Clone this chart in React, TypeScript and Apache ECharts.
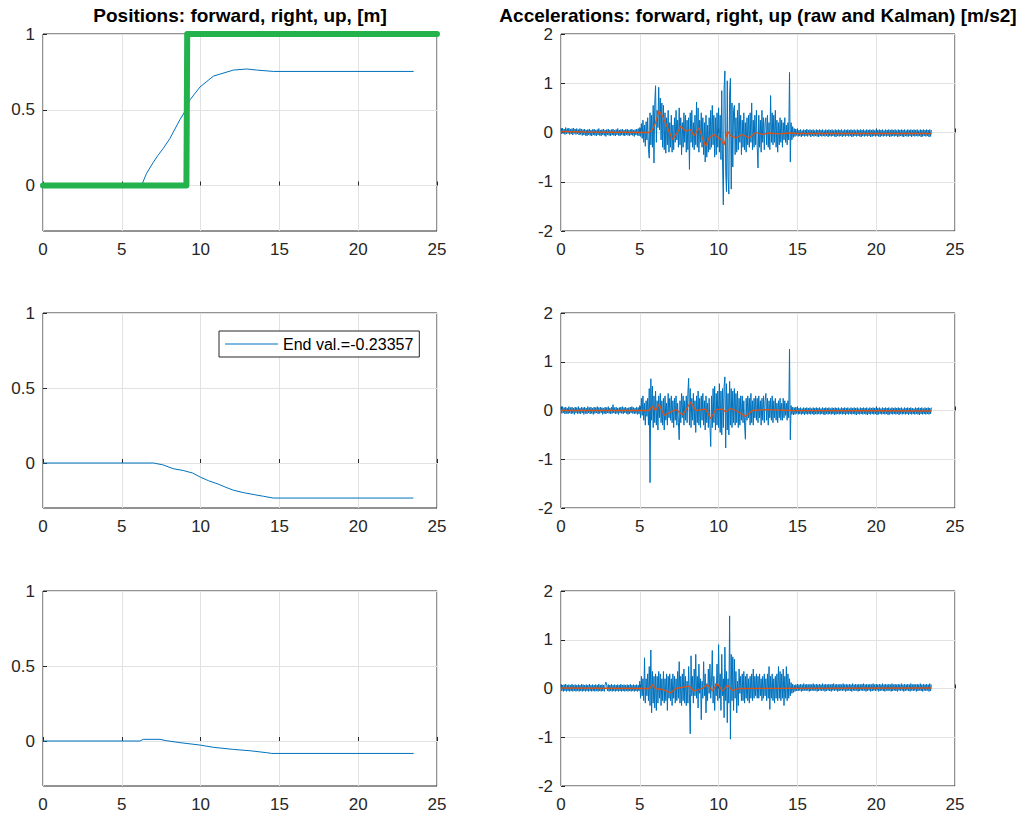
import { useEffect, useRef } from 'react';
import * as echarts from 'echarts';

const FONT = '"Liberation Sans", Arial, Helvetica, sans-serif';
const AXIS_COLOR = '#262626';
const GRID_COLOR = '#e2e2e2';
const RAW_COLOR = '#0072BD';
const KALMAN_COLOR = '#D95319';
const TARGET_COLOR = '#23b24c';

// ---- Positions [m] ----
const posFwdT = [0, 6.25, 6.57, 6.99, 7.3, 7.63, 8.05, 8.69, 9.01, 9.33, 9.96, 10.81, 12.08, 12.93, 13.56, 14.62, 23.52];
const posFwd = [0, 0, 0.08, 0.152, 0.2, 0.245, 0.31, 0.435, 0.49, 0.566, 0.65, 0.722, 0.762, 0.769, 0.762, 0.753, 0.753];

const targetT = [0, 9.1, 9.15, 25];
const target = [0, 0, 1, 1];

const posRightT = [0, 7.0, 7.6, 8.26, 8.9, 9.5, 10.0, 10.5, 11.1, 11.6, 12.1, 12.7, 13.4, 14.0, 14.6, 23.5];
const posRight = [0, 0, -0.012, -0.038, -0.05, -0.067, -0.095, -0.118, -0.14, -0.162, -0.182, -0.197, -0.211, -0.222, -0.23357, -0.23357];

const posUpT = [0, 6.15, 6.36, 7.42, 7.84, 8.69, 9.96, 10.8, 12.08, 13.14, 14.2, 14.52, 23.52];
const posUp = [0, 0, 0.011, 0.011, 0.002, -0.011, -0.027, -0.042, -0.056, -0.065, -0.078, -0.083, -0.083];

// ---- Accelerations [m/s2]: raw samples every ACC_DT seconds ----
// Each record = still phase (0–5 s), manoeuvre (5–15 s), still phase (15–23.5 s).
const ACC_DT = 0.05;

const fwdStill1 = [
  0.08, -0.03, 0.09, -0.02, 0.07, -0.04, 0.10, -0.03, 0.08, -0.02,
  0.09, -0.04, 0.07, -0.03, 0.08, -0.05, 0.09, -0.02, 0.07, -0.04,
  0.08, -0.03, 0.06, -0.05, 0.08, -0.04, 0.07, -0.06, 0.06, -0.05,
  0.07, -0.06, 0.05, -0.07, 0.06, -0.05, 0.07, -0.06, 0.05, -0.07,
  0.06, -0.05, 0.07, -0.06, 0.05, -0.07, 0.06, -0.05, 0.08, -0.06,
  0.05, -0.07, 0.06, -0.05, 0.07, -0.06, 0.05, -0.08, 0.06, -0.05,
  0.07, -0.06, 0.05, -0.07, 0.06, -0.05, 0.07, -0.06, 0.05, -0.07,
  0.06, -0.05, 0.08, -0.06, 0.05, -0.07, 0.06, -0.05, 0.07, -0.06,
  0.05, -0.07, 0.06, -0.05, 0.07, -0.06, 0.05, -0.07, 0.06, -0.05,
  0.07, -0.06, 0.05, -0.08, 0.06, -0.05, 0.07, -0.06, 0.08, -0.07,
];
const fwdMove = [
  0.10, -0.08, 0.18, -0.12, 0.25, -0.20, 0.15, -0.28, 0.22, -0.15,
  0.30, -0.35, -0.52, 0.40, -0.25, 0.35, -0.30, 0.55, -0.62, 0.60,
  0.95, -0.20, 0.45, 0.10, 0.92, 0.05, 0.70, -0.15, 0.60, -0.30,
  0.55, -0.35, 0.40, -0.42, 0.30, -0.25, 0.45, -0.40, 0.20, -0.30,
  0.35, -0.40, 0.15, -0.35, 0.30, -0.20, 0.45, -0.15, 0.25, -0.30,
  0.50, -0.25, 0.30, -0.45, 0.20, -0.30, 0.40, -0.20, 0.35, -0.40,
  0.25, -0.35, 0.30, -0.75, 0.40, -0.20, 0.45, -0.30, 0.20, -0.35,
  0.35, -0.25, 0.62, -0.30, 0.50, -0.40, 0.25, -0.20, 0.40, -0.30,
  0.30, -0.45, 0.20, -0.60, 0.35, -0.50, 0.15, -0.40, 0.30, -0.35,
  0.45, -0.30, 0.55, -0.25, 0.35, -0.50, 0.30, -0.45, 0.40, -0.30,
  0.50, -0.40, 0.35, -0.55, 0.85, -0.60, -1.47, 0.90, 1.25, -0.80,
  -1.20, 1.05, -0.90, -1.25, 0.80, 1.10, -1.15, 0.60, -0.70, 0.45,
  0.55, -0.45, 0.30, -0.40, 0.45, -0.35, 0.60, -0.20, 0.35, -0.45,
  0.25, -0.30, 0.40, -0.35, 0.20, -0.40, 0.30, -0.25, 0.35, -0.30,
  0.40, -0.20, 0.60, -0.35, 0.25, -0.30, 0.35, -0.25, 0.45, -0.30,
  -0.72, 0.35, -0.30, 0.25, -0.40, 0.45, -0.20, 0.30, -0.35, 0.20,
  0.30, -0.25, 0.35, -0.30, 0.20, -0.35, 0.75, -0.20, 0.40, -0.25,
  0.35, -0.20, 0.45, -0.30, 0.25, -0.40, 0.20, -0.25, 0.30, -0.20,
  0.25, -0.30, 0.20, -0.15, 0.30, -0.20, 0.15, -0.25, 0.20, -0.15,
  1.22, -0.60, 0.20, -0.15, 0.12, -0.10, 0.08, -0.08, 0.07, -0.06,
];
const fwdStill2 = [
  0.06, -0.08, 0.05, -0.07, 0.06, -0.09, 0.04, -0.07, 0.06, -0.08,
  0.05, -0.07, 0.07, -0.08, 0.05, -0.06, 0.06, -0.09, 0.05, -0.07,
  0.06, -0.08, 0.04, -0.07, 0.06, -0.08, 0.05, -0.09, 0.06, -0.07,
  0.05, -0.08, 0.06, -0.07, 0.04, -0.08, 0.06, -0.07, 0.05, -0.09,
  0.06, -0.07, 0.05, -0.08, 0.06, -0.07, 0.04, -0.08, 0.06, -0.09,
  0.05, -0.07, 0.06, -0.08, 0.05, -0.07, 0.06, -0.09, 0.04, -0.07,
  0.06, -0.08, 0.05, -0.07, 0.06, -0.08, 0.05, -0.07, 0.06, -0.09,
  0.05, -0.08, 0.06, -0.07, 0.04, -0.08, 0.06, -0.07, 0.05, -0.08,
  0.06, -0.09, 0.05, -0.07, 0.06, -0.08, 0.04, -0.07, 0.06, -0.08,
  0.05, -0.07, 0.06, -0.09, 0.05, -0.08, 0.06, -0.07, 0.04, -0.08,
  0.06, -0.07, 0.05, -0.08, 0.06, -0.09, 0.05, -0.07, 0.06, -0.08,
  0.04, -0.07, 0.06, -0.08, 0.05, -0.07, 0.06, -0.09, 0.05, -0.08,
  0.06, -0.07, 0.05, -0.08, 0.06, -0.07, 0.04, -0.09, 0.06, -0.08,
  0.05, -0.07, 0.06, -0.08, 0.05, -0.09, 0.06, -0.07, 0.04, -0.08,
  0.06, -0.08, 0.05, -0.07, 0.06, -0.09, 0.05, -0.07, 0.06, -0.08,
  0.05, -0.07, 0.06, -0.08, 0.04, -0.07, 0.06, -0.09, 0.05, -0.08,
  0.06, -0.07, 0.05, -0.08, 0.06, -0.07, 0.05, -0.09, 0.06, -0.08,
  0.05,
];

const rightStill1 = [
  0.07, -0.06, 0.08, -0.05, 0.06, -0.07, 0.07, -0.06, 0.05, -0.07,
  0.08, -0.05, 0.06, -0.07, 0.07, -0.06, 0.05, -0.08, 0.07, -0.05,
  0.06, -0.07, 0.08, -0.06, 0.05, -0.07, 0.07, -0.05, 0.06, -0.08,
  0.07, -0.06, 0.05, -0.07, 0.08, -0.05, 0.06, -0.07, 0.07, -0.06,
  0.05, -0.08, 0.07, -0.06, 0.06, -0.05, 0.08, -0.07, 0.06, -0.06,
  0.07, -0.05, 0.06, -0.08, 0.05, -0.06, 0.07, -0.07, 0.06, -0.05,
  0.08, -0.06, 0.05, -0.07, 0.07, -0.06, 0.12, -0.05, 0.06, -0.07,
  0.07, -0.06, 0.05, -0.08, 0.06, -0.05, 0.07, -0.06, 0.08, -0.07,
  0.06, -0.05, 0.07, -0.06, 0.05, -0.08, 0.06, -0.07, 0.07, -0.05,
  0.08, -0.06, 0.06, -0.07, 0.05, -0.06, 0.07, -0.08, 0.06, -0.07,
];
const rightMove = [
  0.10, -0.15, 0.25, -0.10, 0.30, -0.20, 0.15, -0.30, 0.20, -0.12,
  0.25, -0.30, 0.45, -1.48, 0.65, -0.20, 0.50, -0.35, 0.30, -0.25,
  0.40, -0.30, 0.20, -0.40, 0.30, -0.15, 0.35, -0.25, 0.20, -0.30,
  0.25, -0.40, 0.30, -0.20, 0.15, -0.30, 0.35, -0.15, 0.25, -0.20,
  0.30, -0.25, 0.20, -0.35, 0.25, -0.20, 0.30, -0.30, 0.15, -0.25,
  -0.60, 0.20, -0.25, 0.35, -0.15, 0.30, -0.30, 0.20, -0.20, 0.30,
  -0.25, 0.35, 0.66, -0.30, 0.45, -0.35, 0.25, -0.20, 0.35, -0.30,
  0.20, -0.45, 0.30, -0.25, 0.40, -0.30, 0.25, -0.35, 0.30, -0.20,
  0.35, -0.30, 0.20, -0.40, 0.30, -0.25, 0.15, -0.35, 0.25, -0.30,
  -0.74, 0.30, -0.35, 0.45, -0.25, 0.50, -0.40, 0.35, -0.30, 0.40,
  -0.35, 0.55, -0.45, 0.40, -0.50, 0.45, -0.35, 0.50, 0.69, -0.77,
  0.55, -0.40, 0.35, -0.50, 0.60, -0.30, 0.45, -0.35, 0.40, -0.25,
  0.45, -0.30, 0.35, -0.25, 0.40, -0.35, 0.25, -0.30, 0.30, -0.20,
  0.30, -0.25, 0.20, -0.30, -0.59, 0.25, -0.20, 0.30, -0.15, 0.25,
  -0.30, 0.35, -0.25, 0.20, -0.30, 0.25, -0.15, 0.30, -0.20, 0.25,
  -0.25, 0.30, -0.15, 0.20, -0.30, 0.25, -0.20, 0.30, -0.25, 0.20,
  0.35, -0.20, 0.25, -0.30, 0.20, -0.15, 0.25, -0.20, 0.30, -0.25,
  0.20, -0.15, 0.25, -0.20, 0.15, -0.25, 0.20, -0.15, 0.25, -0.20,
  0.15, -0.20, 0.25, -0.15, 0.20, -0.10, 0.15, -0.20, 0.20, -0.15,
  1.26, -0.60, 0.10, -0.08, 0.07, -0.09, 0.06, -0.08, 0.07, -0.06,
];
const rightStill2 = [
  0.06, -0.08, 0.05, -0.07, 0.06, -0.08, 0.04, -0.07, 0.06, -0.09,
  0.05, -0.07, 0.06, -0.08, 0.05, -0.07, 0.06, -0.08, 0.04, -0.07,
  0.06, -0.09, 0.05, -0.07, 0.06, -0.08, 0.05, -0.07, 0.06, -0.08,
  0.04, -0.07, 0.06, -0.08, 0.05, -0.09, 0.06, -0.07, 0.05, -0.08,
  0.06, -0.07, 0.04, -0.08, 0.06, -0.07, 0.05, -0.09, 0.06, -0.08,
  0.05, -0.07, 0.06, -0.08, 0.04, -0.07, 0.06, -0.08, 0.05, -0.07,
  0.06, -0.09, 0.05, -0.07, 0.06, -0.08, 0.04, -0.07, 0.06, -0.08,
  0.05, -0.07, 0.06, -0.08, 0.05, -0.09, 0.06, -0.07, 0.04, -0.08,
  0.06, -0.07, 0.05, -0.08, 0.06, -0.07, 0.05, -0.08, 0.06, -0.09,
  0.04, -0.07, 0.06, -0.08, 0.05, -0.07, 0.06, -0.08, 0.05, -0.07,
  0.06, -0.09, 0.05, -0.08, 0.06, -0.07, 0.04, -0.08, 0.06, -0.07,
  0.05, -0.08, 0.06, -0.07, 0.05, -0.09, 0.06, -0.08, 0.04, -0.07,
  0.06, -0.08, 0.05, -0.07, 0.06, -0.08, 0.05, -0.07, 0.06, -0.09,
  0.05, -0.07, 0.06, -0.08, 0.04, -0.07, 0.06, -0.08, 0.05, -0.07,
  0.06, -0.09, 0.05, -0.07, 0.06, -0.08, 0.05, -0.07, 0.04, -0.08,
  0.06, -0.07, 0.05, -0.08, 0.06, -0.09, 0.05, -0.07, 0.06, -0.08,
  0.04, -0.07, 0.06, -0.08, 0.05, -0.07, 0.06, -0.08, 0.05, -0.07,
  0.06,
];

const upStill1 = [
  0.08, -0.05, 0.07, -0.06, 0.08, -0.05, 0.09, -0.06, 0.07, -0.05,
  0.08, -0.06, 0.07, -0.05, 0.09, -0.06, 0.07, -0.05, 0.08, -0.06,
  0.07, -0.05, 0.08, -0.06, 0.07, -0.05, 0.09, -0.06, 0.08, -0.05,
  0.07, -0.06, 0.08, -0.05, 0.07, -0.06, 0.09, -0.05, 0.07, -0.06,
  0.08, -0.05, 0.07, -0.06, 0.08, -0.05, 0.07, -0.06, 0.09, -0.05,
  0.07, -0.06, 0.08, -0.05, 0.07, -0.06, 0.08, 0.13, 0.07, -0.05,
  0.08, -0.06, 0.07, -0.05, 0.09, -0.06, 0.07, -0.05, 0.08, -0.06,
  0.07, -0.05, 0.08, -0.06, 0.07, -0.05, 0.09, -0.06, 0.07, -0.05,
  0.08, -0.06, 0.07, -0.05, 0.08, -0.06, 0.07, -0.05, 0.09, -0.06,
  0.07, -0.05, 0.08, -0.06, 0.07, -0.05, 0.08, -0.06, 0.07, -0.05,
];
const upMove = [
  0.15, -0.20, 0.25, -0.15, 0.20, -0.25, 0.63, -0.30, 0.20, -0.15,
  0.30, -0.25, 0.45, -0.35, 0.79, -0.50, 0.35, -0.30, 0.25, -0.40,
  0.30, -0.45, 0.25, -0.30, 0.35, -0.20, 0.30, -0.35, 0.20, -0.25,
  0.35, -0.30, 0.20, -0.25, 0.30, -0.45, 0.25, -0.20, 0.30, -0.25,
  0.20, -0.35, 0.30, -0.20, 0.25, -0.30, 0.20, -0.25, 0.35, -0.20,
  0.55, -0.30, 0.25, -0.35, 0.30, -0.25, 0.40, -0.30, 0.25, -0.35,
  0.15, -0.30, 0.45, -0.10, -0.93, 0.67, -0.15, 0.25, -0.30, 0.40,
  -0.15, 0.70, -0.20, 0.25, -0.40, 0.50, -0.10, 0.20, -0.64, 0.15,
  -0.20, 0.55, -0.15, 0.30, -0.50, 0.10, -0.25, 0.40, -0.10, 0.50,
  -0.20, 0.15, 0.78, -0.30, 0.25, -0.45, 0.10, -0.15, 0.50, -0.25,
  0.90, -0.20, 0.30, -0.45, 0.70, -0.15, 0.20, -0.60, 0.85, -0.25,
  0.35, -0.70, 0.20, -0.30, 1.49, -1.04, 0.70, -0.25, 0.65, -0.45,
  0.60, -0.20, 0.35, -0.50, 0.15, -0.35, 0.40, -0.10, 0.25, -0.25,
  0.30, -0.25, 0.35, -0.30, 0.25, -0.20, 0.30, -0.25, 0.20, -0.30,
  0.25, -0.20, 0.30, -0.25, 0.40, -0.20, 0.25, -0.15, 0.30, -0.20,
  0.25, -0.20, 0.30, -0.15, 0.20, -0.25, 0.25, -0.20, 0.30, -0.15,
  0.20, -0.25, 0.30, -0.20, 0.45, -0.43, 0.25, -0.20, 0.30, -0.25,
  0.20, -0.30, 0.25, -0.20, 0.30, -0.25, 0.45, -0.20, 0.35, -0.25,
  0.30, -0.20, 0.40, -0.35, 0.25, -0.20, 0.45, -0.25, 0.30, -0.20,
  0.20, -0.15, 0.12, -0.10, 0.09, -0.08, 0.07, -0.06, 0.08, -0.05,
];
const upStill2 = [
  0.09, -0.05, 0.08, -0.04, 0.09, -0.06, 0.08, -0.05, 0.10, -0.04,
  0.08, -0.05, 0.09, -0.04, 0.08, -0.06, 0.09, -0.05, 0.08, -0.04,
  0.10, -0.05, 0.08, -0.04, 0.09, -0.06, 0.08, -0.05, 0.09, -0.04,
  0.08, -0.05, 0.10, -0.04, 0.08, -0.06, 0.09, -0.05, 0.08, -0.04,
  0.09, -0.05, 0.08, -0.06, 0.09, -0.04, 0.10, -0.05, 0.08, -0.04,
  0.09, -0.06, 0.08, -0.05, 0.09, -0.04, 0.08, -0.05, 0.10, -0.04,
  0.08, -0.06, 0.09, -0.05, 0.08, -0.04, 0.09, -0.05, 0.08, -0.06,
  0.10, -0.04, 0.08, -0.05, 0.09, -0.04, 0.08, -0.06, 0.09, -0.05,
  0.08, -0.04, 0.09, -0.05, 0.10, -0.04, 0.08, -0.06, 0.09, -0.05,
  0.08, -0.04, 0.09, -0.06, 0.08, -0.05, 0.10, -0.04, 0.08, -0.05,
  0.09, -0.04, 0.08, -0.06, 0.09, -0.05, 0.08, -0.04, 0.10, -0.05,
  0.08, -0.06, 0.09, -0.04, 0.08, -0.05, 0.09, -0.04, 0.08, -0.06,
  0.10, -0.05, 0.08, -0.04, 0.09, -0.05, 0.08, -0.06, 0.09, -0.04,
  0.08, -0.05, 0.10, -0.04, 0.08, -0.06, 0.09, -0.05, 0.08, -0.04,
  0.09, -0.05, 0.08, -0.06, 0.10, -0.04, 0.08, -0.05, 0.09, -0.04,
  0.08, -0.06, 0.09, -0.05, 0.08, -0.04, 0.10, -0.05, 0.08, -0.06,
  0.09, -0.04, 0.08, -0.05, 0.09, -0.04, 0.08, -0.06, 0.10, -0.05,
  0.08,
];

const accFwdRaw = [...fwdStill1, ...fwdMove, ...fwdStill2];
const accRightRaw = [...rightStill1, ...rightMove, ...rightStill2];
const accUpRaw = [...upStill1, ...upMove, ...upStill2];

// Kalman-filtered accelerations
const kalFwdT = [0, 1.5, 5.6, 5.8, 6.0, 6.22, 6.43, 6.75, 7.07, 7.38, 7.6, 7.9, 8.23, 8.44, 8.76, 8.97, 9.18, 9.39, 9.71, 10.13, 10.35, 10.56, 10.77, 11.09, 11.51, 11.93, 12.36, 12.78, 13.2, 13.84, 14.47, 15.0, 23.5];
const kalFwd = [0.02, 0.01, 0.0, 0.06, 0.2, 0.44, 0.34, 0.1, -0.14, 0.0, 0.13, 0.03, 0.06, -0.07, 0.1, -0.11, -0.28, -0.11, -0.04, -0.14, -0.25, 0.03, -0.07, -0.11, -0.04, -0.11, 0.0, -0.04, -0.01, -0.03, -0.01, -0.02, -0.02];

const kalRightT = [0, 5.6, 5.8, 6.0, 6.22, 6.54, 6.96, 7.3, 7.7, 7.9, 8.23, 8.55, 9.18, 9.5, 9.82, 10.24, 10.45, 10.77, 11.09, 11.72, 12.14, 12.99, 14.58, 23.5];
const kalRight = [0, 0, 0.09, 0.0, 0.13, -0.1, -0.03, 0.02, -0.09, 0.0, 0.17, 0.0, 0.03, -0.17, 0.02, 0.03, -0.03, 0.04, 0.0, -0.12, 0.0, 0.02, 0.0, -0.01];

const kalUpT = [0, 5.6, 5.8, 6.0, 6.43, 6.96, 7.28, 8.12, 8.44, 8.97, 9.29, 9.6, 9.92, 10.24, 10.56, 10.87, 11.3, 23.5];
const kalUp = [0.01, 0.0, 0.08, 0.0, -0.02, -0.09, 0.0, 0.05, -0.05, 0.0, 0.08, -0.05, 0.1, -0.05, 0.07, -0.04, 0.0, 0.01];

const posTicks = [0, 0.5, 1];

const TITLE_POS = 'Positions: forward, right, up, [m]';
const TITLE_ACC = 'Accelerations: forward, right, up (raw and Kalman) [m/s2]';
const END_LABEL = `End val.=${posRight[posRight.length - 1]}`;

const zip = (t: number[], v: number[]) => t.map((x, i) => [x, v[i]]);
const sampled = (v: number[]) => v.map((y, i) => [+(i * ACC_DT).toFixed(2), y]);

// panel boxes: [left, top, width, height]
const boxes = [
  [43, 34, 394, 197],
  [43, 313, 394, 195],
  [43, 591, 394, 195],
  [561, 34, 394, 197],
  [561, 313, 394, 195],
  [561, 591, 394, 195],
];

const labelStyle = { fontSize: 17, color: AXIS_COLOR, fontFamily: FONT };

function buildOption() {
  const grid = boxes.map(([left, top, width, height]) => ({
    left, top, width, height,
    show: true,
    borderColor: AXIS_COLOR,
    borderWidth: 1,
    backgroundColor: '#ffffff',
    containLabel: false,
  }));

  const xAxis = boxes.map((_, i) => ({
    type: 'value',
    gridIndex: i,
    min: 0,
    max: 25,
    interval: 5,
    axisLine: { show: false },
    axisTick: { show: true, inside: true, length: 4, lineStyle: { color: AXIS_COLOR } },
    splitLine: { show: true, lineStyle: { color: GRID_COLOR, width: 1 } },
    axisLabel: { ...labelStyle, margin: 10 },
  }));

  const yAxis = boxes.map((_, i) =>
    i < 3
      ? {
          type: 'value',
          gridIndex: i,
          min: -0.3,
          max: 1,
          axisLine: { show: false },
          axisTick: { show: true, inside: true, length: 4, customValues: posTicks, lineStyle: { color: AXIS_COLOR } },
          splitLine: { show: true, lineStyle: { color: GRID_COLOR, width: 1 } },
          axisLabel: { ...labelStyle, margin: 8, customValues: posTicks },
        }
      : {
          type: 'value',
          gridIndex: i,
          min: -2,
          max: 2,
          interval: 1,
          axisLine: { show: false },
          axisTick: { show: true, inside: true, length: 4, lineStyle: { color: AXIS_COLOR } },
          splitLine: { show: true, lineStyle: { color: GRID_COLOR, width: 1 } },
          axisLabel: { ...labelStyle, margin: 8 },
        }
  );

  const line = (name: string, idx: number, data: number[][], color: string, width: number, extra: object = {}) => ({
    type: 'line',
    name,
    xAxisIndex: idx,
    yAxisIndex: idx,
    data,
    symbol: 'none',
    showSymbol: false,
    lineStyle: { color, width },
    itemStyle: { color },
    emphasis: { disabled: true },
    ...extra,
  });

  const series = [
    line('forward', 0, zip(posFwdT, posFwd), RAW_COLOR, 1),
    line('target', 0, zip(targetT, target), TARGET_COLOR, 6, {
      clip: false,
      lineStyle: { color: TARGET_COLOR, width: 6, cap: 'round', join: 'round' },
    }),
    line(END_LABEL, 1, zip(posRightT, posRight), RAW_COLOR, 1),
    line('up', 2, zip(posUpT, posUp), RAW_COLOR, 1),
    line('forward raw', 3, sampled(accFwdRaw), RAW_COLOR, 1),
    line('forward Kalman', 3, zip(kalFwdT, kalFwd), KALMAN_COLOR, 1.3),
    line('right raw', 4, sampled(accRightRaw), RAW_COLOR, 1),
    line('right Kalman', 4, zip(kalRightT, kalRight), KALMAN_COLOR, 1.3),
    line('up raw', 5, sampled(accUpRaw), RAW_COLOR, 1),
    line('up Kalman', 5, zip(kalUpT, kalUp), KALMAN_COLOR, 1.3),
  ];

  return {
    animation: false,
    backgroundColor: '#ffffff',
    grid,
    xAxis,
    yAxis,
    series,
    legend: {
      data: [{ name: END_LABEL, icon: 'rect' }],
      left: 219,
      top: 331,
      orient: 'horizontal',
      padding: [5, 6, 5, 6],
      itemWidth: 53,
      itemHeight: 1,
      itemGap: 0,
      borderColor: AXIS_COLOR,
      borderWidth: 1,
      borderRadius: 0,
      backgroundColor: '#ffffff',
      selectedMode: false,
      itemStyle: { color: RAW_COLOR, borderWidth: 0 },
      textStyle: { fontSize: 16, color: '#000000', fontFamily: FONT },
    },
    graphic: [
      {
        type: 'text',
        x: 240,
        y: 15,
        style: { text: TITLE_POS, fill: '#000000', fontSize: 19, fontWeight: 'bold', fontFamily: FONT, align: 'center', verticalAlign: 'middle' },
      },
      {
        type: 'text',
        x: 758,
        y: 15,
        style: { text: TITLE_ACC, fill: '#000000', fontSize: 19, fontWeight: 'bold', fontFamily: FONT, align: 'center', verticalAlign: 'middle' },
      },
    ],
  };
}

export default function App() {
  const ref = useRef<HTMLDivElement>(null);
  useEffect(() => {
    if (!ref.current) return;
    const chart = echarts.init(ref.current, null, { renderer: 'svg' });
    chart.setOption(buildOption() as any);
    return () => chart.dispose();
  }, []);
  return (
    <div
      ref={ref}
      style={{ position: 'fixed', left: 0, top: 0, width: 1033, height: 820, background: '#ffffff' }}
    />
  );
}
